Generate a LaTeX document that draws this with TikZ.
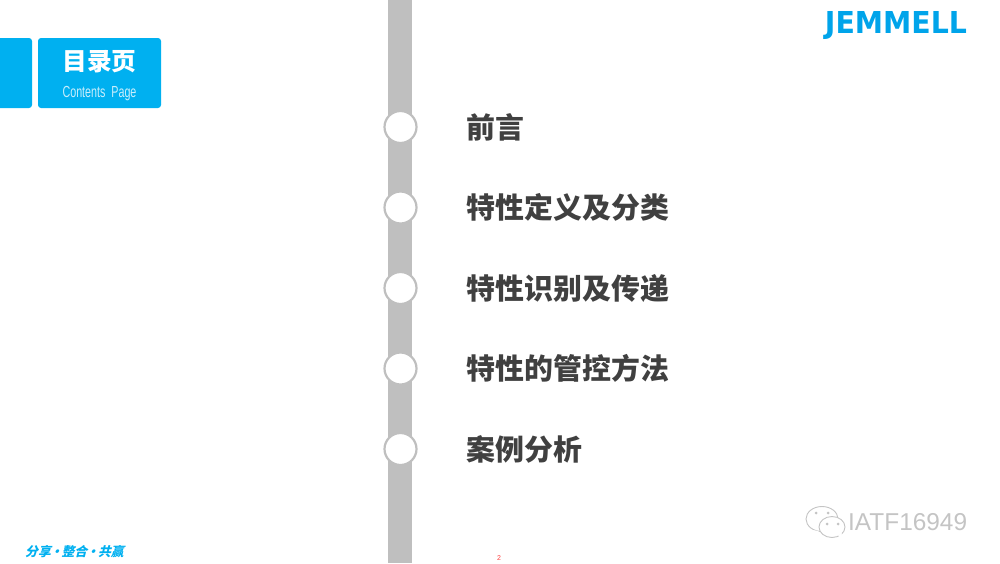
\documentclass[tikz,border=0pt]{standalone}
\usepackage{fontspec}
\setmainfont{Liberation Sans}
\newfontfamily\cjk{Noto Sans CJK SC}
\newfontfamily\cjkslant[FakeSlant=0.25]{Noto Sans CJK SC}
\newfontfamily\logofont{DejaVu Sans}
\definecolor{tabblue}{HTML}{00B0F0}
\definecolor{logoblue}{HTML}{00A4EA}
\definecolor{bargray}{HTML}{BFBFBF}
\definecolor{itemgray}{HTML}{404040}
\definecolor{markgray}{HTML}{C4C4C4}
\definecolor{subblue}{HTML}{C8EEFC}
\tikzset{
  tabbox/.style={fill=tabblue,rounded corners=3pt},
  ringdot/.style={circle,draw=bargray,line width=2.2pt,fill=white,minimum size=32pt,inner sep=0pt},
  itemtext/.style={anchor=west,inner sep=0pt,text=itemgray,font=\cjk\bfseries\fontsize{28.9}{30}\selectfont},
  markline/.style={draw=markgray,line width=0.9pt,fill=white},
}
\begin{document}
\begin{tikzpicture}[x=1pt,y=-1pt]
\useasboundingbox (0,0) rectangle (1000,563);

% gray bar and tabs
\fill[bargray] (388,0) rectangle (412,563);
\fill[tabblue] (-6,38) [rounded corners=3pt] -- (32,38) -- (32,108) -- (-6,108) -- cycle;
\fill[tabbox] (38,38) rectangle (161,108);
\node[inner sep=0pt,text=white,font=\cjk\bfseries\fontsize{24.7}{26}\selectfont] (title) at (99.5,62) {目录页};
\node[inner sep=0pt,text=subblue] (subtitle) at (99.5,93.5) {\scalebox{0.67}[1]{\fontsize{16}{17}\selectfont Contents\ \ Page}};

% items on the bar
\foreach \y/\n/\t in {127/1/前言,207.5/2/特性定义及分类,288/3/特性识别及传递,368.5/4/特性的管控方法,449/5/案例分析}
{
  \node[ringdot] (ring\n) at (400.5,\y) {};
  \node[itemtext] (item\n) at (466.5,\y) {\t};
}

% logo
\node[inner sep=0pt,anchor=base,text=logoblue] (logo) at (896,33) {\resizebox{142pt}{22pt}{\logofont\bfseries JEMMELL}};

% footer
\node[inner sep=0pt,anchor=west,text=tabblue,font=\cjkslant\bfseries\fontsize{12.8}{14}\selectfont] (motto) at (25,552) {分享\kern-1pt•\kern-1pt整合\kern-1pt•\kern-1pt共赢};
\node[inner sep=0pt,text=red!75,font=\fontsize{7}{8}\selectfont] (page) at (499,558.5) {2};

% watermark
\draw[markline] (822,519) ellipse (16 and 12.5);
\fill[markline,draw=none] (812,530) -- (811,537) -- (819,531) -- cycle;
\draw[markline] (832,527) ellipse (13 and 10.5);
\fill[markline,draw=none] (838,535) -- (841,539) -- (842,533) -- cycle;
\foreach \cx/\cy in {816/513,828/513,827/524,838/524} \fill[markgray] (\cx,\cy) circle (1.5);
\node[inner sep=0pt,anchor=west,text=markgray,font=\fontsize{24.4}{26}\selectfont] (mark) at (848,522) {IATF16949};
\end{tikzpicture}
\end{document}
